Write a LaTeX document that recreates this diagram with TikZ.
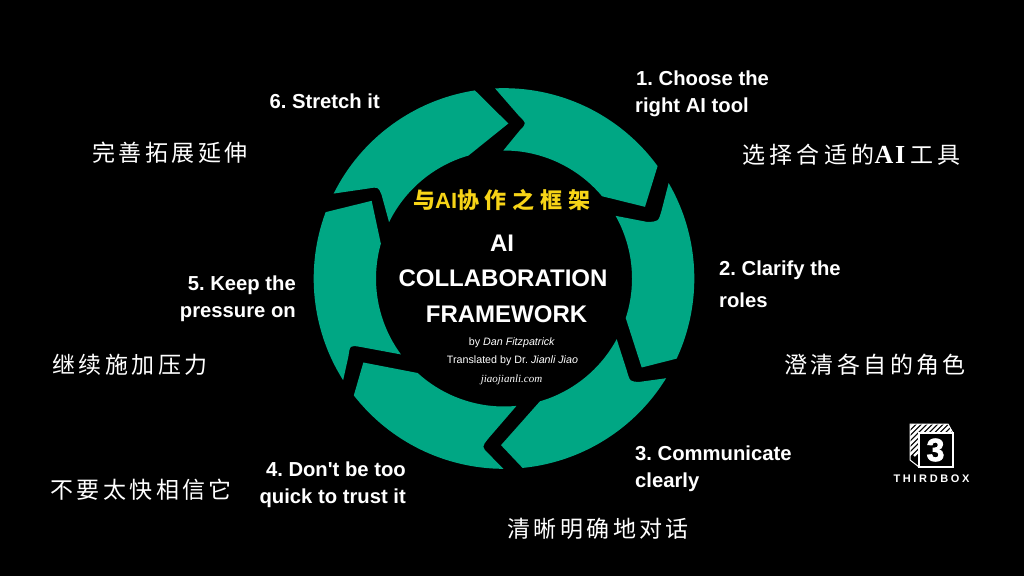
\documentclass[tikz,border=0pt]{standalone}
\usepackage{fontspec}
\setmainfont{Liberation Sans}
\newfontfamily\nomap{Liberation Sans}
\newfontfamily\cjk[LetterSpace=15]{Noto Sans CJK SC}
\newfontfamily\cjkwide[LetterSpace=19]{Noto Sans CJK SC}
\newfontfamily\cjkhead[LetterSpace=26]{Noto Sans CJK SC}
\newfontfamily\serifit{Liberation Serif}
\newfontfamily\logofont[LetterSpace=24]{Liberation Sans}
\newfontfamily\threefont[FakeBold=2.5]{Liberation Sans}
\definecolor{ringteal}{HTML}{00A784}
\definecolor{headyellow}{HTML}{F7D417}
\frenchspacing
\tikzset{
  x=1pt,y=1pt,
  seg/.style={fill=ringteal,draw=none},
  steplabel/.style={text=white,inner sep=0pt,font=\fontsize{20.25}{24}\selectfont\bfseries},
  titlelabel/.style={text=white,inner sep=0pt,font=\fontsize{24}{30}\selectfont\bfseries},
  smalllabel/.style={text=white,inner sep=0pt,font=\fontsize{10.7}{13}\selectfont},
  cjklabel/.style={text=white,inner sep=0pt,font=\fontsize{23}{28}\selectfont\cjk},
}
\begin{document}
\begin{tikzpicture}
\useasboundingbox (0,0) rectangle (1024,576);
\fill[black] (0,0) rectangle (1024,576);
% ring
\begin{scope}[shift={(504,297.5)},scale=1/3]
\fill[seg] (92.7:571) arc[start angle=92.7,end angle=36.2,radius=571] -- (423,215) -- (40:384) arc[start angle=40,end angle=90.3,radius=384] -- (48,445) .. controls (68,465) .. (43,490) -- cycle;
\fill[seg] (30.1:571) arc[start angle=30.1,end angle=-24.9,radius=571] -- (413,-267) -- (-18:384) arc[start angle=-18,end angle=29.3,radius=384] -- (428,170) .. controls (463,170) .. (473,205) -- cycle;
\fill[seg] (-31.6:571) arc[start angle=-31.6,end angle=-84.4,radius=571] -- (-9,-500) -- (-73.7:384) arc[start angle=-73.7,end angle=-28.3,radius=384] -- (368,-275) .. controls (378,-310) .. (408,-310) -- cycle;
\fill[seg] (-90.2:571) arc[start angle=-90.2,end angle=-142.1,radius=571] -- (-422,-252) -- (-132.4:384) arc[start angle=-132.4,end angle=-84.4,radius=384] -- (-47,-480) .. controls (-67,-505) .. (-47,-525) -- cycle;
\fill[seg] (212.3:571) arc[start angle=212.3,end angle=159.6,radius=571] -- (-397,233) -- (164.2:384) arc[start angle=164.2,end angle=216.4,radius=384] -- (-432,-205) .. controls (-462,-200) .. (-467,-235) -- cycle;
\fill[seg] (153.5:571) arc[start angle=153.5,end angle=98.8,radius=571] -- (13,465) -- (106.1:384) arc[start angle=106.1,end angle=153.9,radius=384] -- (-367,250) .. controls (-377,275) .. (-407,270) -- cycle;
\end{scope}
% step labels
\node[steplabel,anchor=west] (s1a) at (636,498) {1. Choose the};
\node[steplabel,anchor=west] (s1b) at (635,469) {right AI tool};
\node[steplabel,anchor=west] (s2a) at (719,306) {2. Clarify the};
\node[steplabel,anchor=west] (s2b) at (719,276) {roles};
\node[steplabel,anchor=west] (s3a) at (635,123) {3. Communicate};
\node[steplabel,anchor=west] (s3b) at (635,94) {clearly};
\node[steplabel,anchor=east] (s4a) at (406,107) {4. Don{\nomap\bfseries '}t be too};
\node[steplabel,anchor=east] (s4b) at (406,78) {quick to trust it};
\node[steplabel,anchor=east] (s5a) at (296,291) {5. Keep the};
\node[steplabel,anchor=east] (s5b) at (296,262) {pressure on};
\node[steplabel,anchor=east] (s6) at (380,475) {6. Stretch it};
% chinese labels
\node[cjklabel,anchor=west] (c6) at (92,423) {完善拓展延伸};
\node[cjklabel,anchor=west,font=\fontsize{23}{28}\selectfont\cjkwide] (c1) at (742,421) {选择合适的{\serifit\bfseries\addfontfeature{LetterSpace=6}\fontsize{26}{28}\selectfont AI}\hspace{5pt}工具};
\node[cjklabel,anchor=west] (c2) at (784,211) {澄清各自的角色};
\node[cjklabel,anchor=west] (c5) at (52,211) {继续施加压力};
\node[cjklabel,anchor=west] (c4) at (50,86) {不要太快相信它};
\node[cjklabel,anchor=west] (c3) at (507,47) {清晰明确地对话};
% centre
\node[inner sep=0pt,text=headyellow,font=\fontsize{22}{26}\selectfont\cjkhead\bfseries,anchor=west] (head) at (413,376) {与{\fontspec{Liberation Sans}\bfseries AI}协作之框架};
\node[titlelabel] (t1) at (502,333) {AI};
\node[titlelabel] (t2) at (503,298) {COLLABORATION};
\node[titlelabel] (t3) at (506.5,262) {FRAMEWORK};
\node[smalllabel] (by) at (512,233) {by \textit{Dan Fitzpatrick}};
\node[smalllabel] (tr) at (512.5,215) {Translated by Dr. \textit{Jianli Jiao}};
\node[text=white,inner sep=0pt,font=\fontsize{11}{14}\selectfont\serifit\itshape] (site) at (511.5,196) {jiaojianli.com};
% logo
\begin{scope}
\clip (910,152) -- (948,152) -- (953,143) -- (919,143) -- (919,109) -- (910,116) -- cycle;
\foreach \k in {0,...,17}
  \draw[white,line width=2.4pt] (900+5.4*\k,160) -- ++(-40,-40);
\end{scope}
\draw[white,line width=1pt,line join=miter] (910,152) -- (948,152) -- (953,143) -- (953,109) -- (919,109) -- (910,116) -- cycle;
\draw[white,line width=2.2pt] (919,109) rectangle (953,143);
\node[text=white,inner sep=0pt,font=\fontsize{32}{34}\selectfont\threefont\bfseries] (logo3) at (935.5,126) {3};
\node[text=white,inner sep=0pt,font=\fontsize{11}{13}\selectfont\logofont\bfseries] (logotext) at (931.5,97) {THIRDBOX};
\end{tikzpicture}
\end{document}
